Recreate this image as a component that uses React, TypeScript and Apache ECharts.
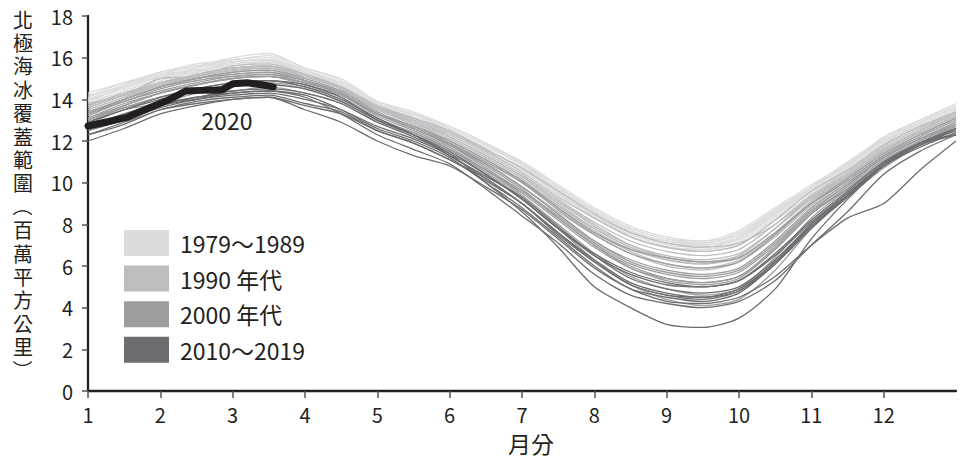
import { useEffect, useRef } from 'react';
import * as echarts from 'echarts';

// x positions (month scale, 1 = Jan 1, 13 = Dec 31), half-month steps
const monthX = [1, 1.5, 2, 2.5, 3, 3.5, 4, 4.5, 5, 5.5, 6, 6.5, 7, 7.5, 8, 8.5, 9, 9.5, 10, 10.5, 11, 11.5, 12, 12.5, 13];
const monthTicks = [1, 2, 3, 4, 5, 6, 7, 8, 9, 10, 11, 12];

const decadeLabels = ['1979～1989', '1990 年代', '2000 年代', '2010～2019'];
const decadeColors = ['#dcdcde', '#bdbdc0', '#9d9da0', '#6d6d71'];

const years1980s = [1979, 1980, 1981, 1982, 1983, 1984, 1985, 1986, 1987, 1988, 1989];
const extent1980s = [
  [14.3, 14.8, 15.3, 15.7, 15.9, 16.1, 15.5, 14.9, 13.9, 13.4, 12.7, 11.9, 11.0, 9.8, 8.7, 7.8, 7.3, 7.1, 7.6, 8.7, 9.8, 10.9, 12.2, 13.0, 13.8],
  [14.1, 14.7, 15.2, 15.4, 15.8, 15.9, 15.3, 14.8, 13.8, 13.3, 12.5, 11.7, 10.9, 9.6, 8.5, 7.6, 7.2, 7.0, 7.4, 8.5, 9.7, 10.8, 12.0, 12.9, 13.6],
  [13.9, 14.4, 15.0, 15.4, 15.3, 15.7, 15.3, 14.6, 13.6, 13.1, 12.4, 11.6, 10.7, 9.5, 8.4, 7.4, 6.9, 6.8, 7.1, 8.3, 9.4, 10.6, 11.8, 12.7, 13.4],
  [14.0, 14.7, 15.3, 15.6, 16.0, 16.2, 15.5, 15.0, 13.9, 13.3, 12.6, 11.8, 10.8, 9.7, 8.6, 7.7, 7.2, 7.1, 7.5, 8.6, 9.8, 11.0, 12.1, 13.0, 13.7],
  [14.2, 14.6, 15.1, 15.4, 15.7, 15.8, 15.4, 14.7, 13.7, 13.3, 12.6, 11.8, 11.0, 9.9, 8.8, 7.9, 7.4, 7.2, 7.7, 8.8, 9.9, 10.9, 12.0, 12.8, 13.5],
  [13.8, 14.3, 14.9, 15.3, 15.5, 15.6, 15.1, 14.5, 13.5, 13.0, 12.3, 11.5, 10.6, 9.4, 8.3, 7.4, 6.9, 6.7, 7.0, 8.2, 9.3, 10.5, 11.7, 12.6, 13.3],
  [13.9, 14.6, 15.1, 15.3, 15.7, 15.8, 15.3, 14.7, 13.7, 13.1, 12.4, 11.6, 10.7, 9.5, 8.4, 7.5, 7.0, 6.9, 7.3, 8.5, 9.6, 10.7, 11.9, 12.8, 13.5],
  [14.0, 14.5, 15.1, 15.5, 15.8, 15.9, 15.4, 14.8, 13.8, 13.3, 12.7, 11.9, 10.9, 9.8, 8.7, 7.8, 7.3, 7.2, 7.5, 8.7, 9.8, 10.8, 12.1, 12.9, 13.6],
  [14.1, 14.8, 15.0, 15.5, 15.9, 16.0, 15.4, 14.7, 13.7, 13.1, 12.4, 11.6, 10.7, 9.6, 8.6, 7.7, 7.1, 7.0, 7.4, 8.6, 9.7, 10.8, 12.0, 12.8, 13.5],
  [13.9, 14.6, 15.2, 15.6, 15.8, 15.9, 15.4, 14.8, 13.8, 13.2, 12.5, 11.6, 10.7, 9.5, 8.4, 7.6, 7.1, 7.0, 7.3, 8.5, 9.6, 10.7, 11.9, 12.9, 13.6],
  [13.8, 14.4, 15.0, 15.4, 15.6, 15.8, 15.2, 14.6, 13.6, 13.0, 12.3, 11.5, 10.6, 9.4, 8.3, 7.4, 6.9, 6.8, 7.2, 8.4, 9.5, 10.6, 11.8, 12.7, 13.4],
];

const years1990s = [1990, 1991, 1992, 1993, 1994, 1995, 1996, 1997, 1998, 1999];
const extent1990s = [
  [13.7, 14.3, 14.8, 15.2, 15.5, 15.6, 15.2, 14.6, 13.6, 12.9, 12.0, 11.1, 10.0, 8.8, 7.6, 6.7, 6.1, 5.9, 6.3, 7.5, 9.1, 10.3, 11.5, 12.4, 13.2],
  [13.6, 14.2, 14.7, 15.1, 15.4, 15.5, 15.0, 14.4, 13.5, 12.9, 12.2, 11.3, 10.3, 9.1, 8.0, 7.0, 6.4, 6.2, 6.5, 7.8, 9.3, 10.4, 11.6, 12.5, 13.3],
  [13.8, 14.2, 15.0, 15.1, 15.6, 15.7, 15.2, 14.6, 13.7, 13.1, 12.4, 11.5, 10.5, 9.3, 8.3, 7.4, 6.9, 6.7, 7.0, 8.2, 9.6, 10.6, 11.8, 12.7, 13.4],
  [13.5, 14.1, 14.7, 15.2, 15.5, 15.6, 15.1, 14.5, 13.5, 12.9, 12.1, 11.2, 10.2, 9.0, 7.8, 6.9, 6.3, 6.1, 6.5, 7.8, 9.3, 10.4, 11.6, 12.5, 13.3],
  [13.7, 14.3, 14.8, 15.2, 15.5, 15.6, 15.1, 14.5, 13.6, 13.0, 12.3, 11.4, 10.4, 9.2, 8.1, 7.2, 6.7, 6.5, 6.8, 8.0, 9.4, 10.5, 11.7, 12.6, 13.4],
  [13.4, 14.0, 14.6, 15.0, 15.3, 15.4, 14.9, 14.3, 13.3, 12.6, 11.8, 10.9, 9.8, 8.6, 7.5, 6.6, 6.0, 5.8, 6.2, 7.4, 8.9, 10.1, 11.3, 12.3, 13.1],
  [13.3, 14.0, 14.6, 14.9, 15.2, 15.3, 14.9, 14.4, 13.6, 13.1, 12.5, 11.6, 10.7, 9.6, 8.5, 7.6, 7.1, 6.9, 7.1, 8.0, 9.3, 10.3, 11.5, 12.4, 13.2],
  [13.6, 14.2, 14.7, 15.1, 15.4, 15.5, 15.1, 14.6, 13.6, 13.0, 12.2, 11.3, 10.3, 9.1, 7.9, 7.0, 6.5, 6.3, 6.6, 7.8, 9.2, 10.3, 11.5, 12.4, 13.2],
  [13.5, 14.1, 14.7, 15.1, 15.4, 15.5, 15.1, 14.5, 13.5, 12.8, 12.0, 11.1, 10.1, 8.9, 7.8, 6.9, 6.4, 6.2, 6.4, 7.6, 9.1, 10.3, 11.5, 12.4, 13.2],
  [13.6, 14.2, 14.8, 15.1, 15.4, 15.5, 15.1, 14.5, 13.5, 12.8, 12.0, 11.1, 10.1, 8.9, 7.7, 6.8, 6.3, 6.1, 6.4, 7.6, 9.1, 10.2, 11.4, 12.3, 13.1],
];

const years2000s = [2000, 2001, 2002, 2003, 2004, 2005, 2006, 2007, 2008, 2009];
const extent2000s = [
  [13.4, 14.0, 14.6, 15.0, 15.2, 15.3, 14.9, 14.3, 13.3, 12.6, 11.9, 11.0, 10.0, 8.7, 7.5, 6.6, 6.1, 5.9, 6.2, 7.5, 9.0, 10.2, 11.4, 12.3, 13.1],
  [13.3, 14.0, 14.6, 15.0, 15.3, 15.4, 15.0, 14.4, 13.4, 12.7, 12.0, 11.1, 10.1, 8.8, 7.6, 6.8, 6.4, 6.2, 6.4, 7.6, 9.0, 10.1, 11.3, 12.2, 13.0],
  [13.2, 13.9, 14.4, 14.8, 15.1, 15.2, 14.9, 14.3, 13.3, 12.6, 11.8, 10.8, 9.7, 8.3, 7.0, 6.0, 5.4, 5.2, 5.5, 6.9, 8.6, 9.9, 11.2, 12.1, 12.9],
  [13.3, 13.9, 14.5, 14.9, 15.1, 15.2, 14.8, 14.3, 13.3, 12.6, 11.8, 10.9, 9.8, 8.5, 7.2, 6.3, 5.8, 5.6, 5.9, 7.2, 8.8, 10.0, 11.2, 12.1, 12.9],
  [13.1, 13.8, 14.3, 14.7, 15.0, 15.1, 14.7, 14.2, 13.3, 12.7, 11.9, 10.9, 9.8, 8.5, 7.2, 6.2, 5.7, 5.5, 5.8, 7.1, 8.7, 9.9, 11.2, 12.1, 12.8],
  [13.0, 13.6, 14.1, 14.5, 14.8, 14.9, 14.6, 14.1, 13.1, 12.4, 11.6, 10.6, 9.5, 8.2, 6.9, 5.9, 5.3, 5.1, 5.4, 6.8, 8.5, 9.7, 11.0, 11.9, 12.7],
  [12.8, 13.5, 13.8, 14.3, 14.4, 14.6, 14.3, 13.8, 12.9, 12.3, 11.6, 10.6, 9.6, 8.4, 7.1, 6.1, 5.6, 5.4, 5.7, 7.0, 8.6, 9.7, 11.0, 11.9, 12.6],
  [12.9, 13.6, 14.1, 14.4, 14.7, 14.8, 14.5, 13.9, 13.0, 12.4, 11.6, 10.5, 9.3, 7.8, 6.3, 5.1, 4.4, 4.1, 4.4, 5.8, 7.8, 9.3, 10.7, 11.8, 12.6],
  [13.0, 13.7, 14.3, 14.7, 15.0, 15.1, 14.8, 14.2, 13.2, 12.5, 11.7, 10.6, 9.4, 8.0, 6.6, 5.5, 4.9, 4.6, 4.9, 6.4, 8.3, 9.7, 11.0, 12.0, 12.7],
  [13.1, 13.7, 14.3, 14.7, 15.0, 15.1, 14.8, 14.3, 13.3, 12.6, 11.8, 10.7, 9.6, 8.3, 7.0, 5.9, 5.4, 5.2, 5.5, 6.8, 8.5, 9.8, 11.1, 12.0, 12.8],
];

const years2010s = [2010, 2011, 2012, 2013, 2014, 2015, 2016, 2017, 2018, 2019];
const extent2010s = [
  [12.9, 13.5, 14.1, 14.5, 14.8, 14.9, 14.7, 14.1, 13.0, 12.3, 11.3, 10.3, 9.3, 7.9, 6.5, 5.4, 4.9, 4.7, 5.0, 6.3, 8.0, 9.5, 10.9, 11.9, 12.6],
  [12.6, 13.1, 13.7, 14.1, 14.3, 14.4, 14.2, 13.5, 12.6, 12.0, 11.2, 10.0, 8.8, 7.4, 6.0, 4.9, 4.5, 4.3, 4.7, 6.1, 7.9, 9.4, 10.8, 11.8, 12.5],
  [12.9, 13.5, 14.0, 14.4, 14.7, 14.9, 14.6, 14.0, 13.1, 12.3, 11.4, 10.0, 8.6, 6.9, 5.0, 4.0, 3.2, 3.05, 3.5, 4.9, 7.3, 9.2, 10.8, 11.9, 12.5],
  [12.8, 13.2, 13.9, 14.0, 14.6, 14.7, 14.5, 13.9, 13.0, 12.3, 11.5, 10.4, 9.2, 7.8, 6.6, 5.7, 5.2, 5.0, 5.3, 6.6, 8.2, 9.6, 11.0, 11.9, 12.6],
  [12.7, 13.3, 13.8, 14.1, 14.4, 14.5, 14.3, 13.8, 12.9, 12.2, 11.4, 10.4, 9.2, 7.8, 6.5, 5.6, 5.1, 5.0, 5.3, 6.5, 8.1, 9.5, 10.9, 11.9, 12.6],
  [12.6, 13.2, 13.7, 14.0, 14.2, 14.3, 14.0, 13.5, 12.7, 12.1, 11.3, 10.2, 9.0, 7.5, 6.2, 5.1, 4.6, 4.4, 4.8, 6.2, 7.9, 9.3, 10.8, 11.7, 12.4],
  [12.3, 12.8, 13.5, 13.8, 14.0, 14.1, 13.5, 12.9, 12.0, 11.3, 10.8, 9.8, 8.7, 7.3, 5.9, 4.9, 4.3, 4.2, 4.5, 5.5, 7.0, 8.3, 9.0, 10.6, 12.0],
  [12.3, 12.9, 13.5, 13.9, 14.1, 14.2, 13.8, 13.4, 12.5, 11.9, 11.1, 10.1, 9.0, 7.6, 6.2, 5.1, 4.6, 4.5, 4.9, 6.2, 8.0, 9.4, 10.8, 11.8, 12.3],
  [12.0, 12.6, 13.3, 13.7, 14.0, 14.1, 13.7, 13.3, 12.5, 11.9, 11.1, 10.2, 9.0, 7.6, 6.3, 5.2, 4.7, 4.5, 4.8, 6.1, 7.8, 9.4, 10.9, 11.9, 12.3],
  [12.5, 13.0, 13.6, 14.0, 14.3, 14.4, 14.1, 13.3, 12.3, 11.6, 10.9, 9.7, 8.4, 7.1, 5.6, 4.6, 4.2, 4.0, 4.3, 5.3, 7.0, 8.6, 10.4, 11.5, 12.3],
];

// 2020 (partial year)
const x2020 = [1, 1.3, 1.55, 1.85, 2.1, 2.35, 2.55, 2.85, 3.0, 3.2, 3.4, 3.56];
const y2020 = [12.72, 12.95, 13.15, 13.6, 13.95, 14.4, 14.43, 14.45, 14.75, 14.8, 14.7, 14.6];
const label2020 = '2020';
const label2020At = [2.92, 13.0];

const yAxisTitleChars = ['北', '極', '海', '冰', '覆', '蓋', '範', '圍', '（', '百', '萬', '平', '方', '公', '里', '）'];
const xAxisTitle = '月分';

const FONT = '"Noto Sans CJK TC", "Noto Sans", sans-serif';
const INK = '#231f20';

export default function App() {
  const ref = useRef<HTMLDivElement>(null);

  useEffect(() => {
    document.body.style.margin = '0';
    const chart = echarts.init(ref.current!, null, { renderer: 'svg' });

    const groups = [
      { years: years1980s, data: extent1980s },
      { years: years1990s, data: extent1990s },
      { years: years2000s, data: extent2000s },
      { years: years2010s, data: extent2010s },
    ];
    const series: any[] = [];
    groups.forEach((g, d) => {
      g.years.forEach((yr, k) => {
        series.push({
          type: 'line',
          name: decadeLabels[d],
          id: 'y' + yr,
          data: monthX.map((x, i) => [x, g.data[k][i]]),
          smooth: 0.25,
          symbol: 'none',
          showSymbol: false,
          silent: true,
          color: decadeColors[d],
          lineStyle: { width: 1.3, color: decadeColors[d] },
          itemStyle: { color: decadeColors[d] },
          z: 2,
        });
      });
    });
    series.push({
      type: 'line',
      id: 'y2020',
      data: x2020.map((x, i) => [x, y2020[i]]),
      symbol: 'none',
      showSymbol: false,
      silent: true,
      lineStyle: { width: 7, color: INK, cap: 'round', join: 'round' },
      z: 5,
    });
    series.push({
      type: 'scatter',
      id: 'label2020',
      data: [label2020At],
      symbolSize: 0,
      silent: true,
      itemStyle: { opacity: 1 },
      label: {
        show: true,
        position: 'inside',
        formatter: label2020,
        fontSize: 23,
        fontFamily: FONT,
        color: INK,
        opacity: 1,
      },
      z: 6,
    });

    const step = 23.4;
    const titleEls = yAxisTitleChars.map((ch, i) => {
      const isParen = ch === '（' || ch === '）';
      return {
        type: 'text',
        x: 23,
        y: 19 + i * step,
        rotation: isParen ? -Math.PI / 2 : 0,
        style: {
          text: ch,
          font: '20px ' + FONT,
          fill: INK,
          align: 'center',
          verticalAlign: 'middle',
        },
      };
    });

    chart.setOption({
      animation: false,
      backgroundColor: '#ffffff',
      grid: { left: 88, right: 7, top: 16, bottom: 68 },
      xAxis: {
        type: 'value',
        min: 1,
        max: 13,
        interval: 1,
        axisLine: { show: true, lineStyle: { color: INK, width: 2.3 } },
        axisTick: { show: true, length: 7, lineStyle: { color: '#555', width: 1.5 }, customValues: monthTicks },
        axisLabel: { customValues: monthTicks, fontSize: 20, fontFamily: FONT, color: INK, margin: 13 },
        splitLine: { show: false },
      },
      yAxis: {
        type: 'value',
        min: 0,
        max: 18,
        interval: 2,
        axisLine: { show: true, lineStyle: { color: INK, width: 2.3 } },
        axisTick: { show: true, length: 6, lineStyle: { color: '#555', width: 1.5 } },
        axisLabel: { fontSize: 20, fontFamily: FONT, color: INK, margin: 15 },
        splitLine: { show: false },
      },
      legend: {
        left: 119,
        top: 225,
        orient: 'vertical',
        icon: 'rect',
        itemWidth: 45,
        itemHeight: 26,
        itemGap: 9.6,
        selectedMode: false,
        data: decadeLabels.map((n, i) => ({ name: n, itemStyle: { color: decadeColors[i], borderWidth: 0 } })),
        textStyle: { fontSize: 23, fontFamily: FONT, color: INK, padding: [0, 0, 0, 6] },
      },
      graphic: [
        ...titleEls,
        {
          type: 'text',
          x: 531,
          y: 443,
          style: {
            text: xAxisTitle,
            font: '23px ' + FONT,
            fill: INK,
            align: 'center',
            verticalAlign: 'middle',
          },
        },
      ],
      series,
    });

    return () => chart.dispose();
  }, []);

  return <div ref={ref} style={{ width: 963, height: 459 }} />;
}
